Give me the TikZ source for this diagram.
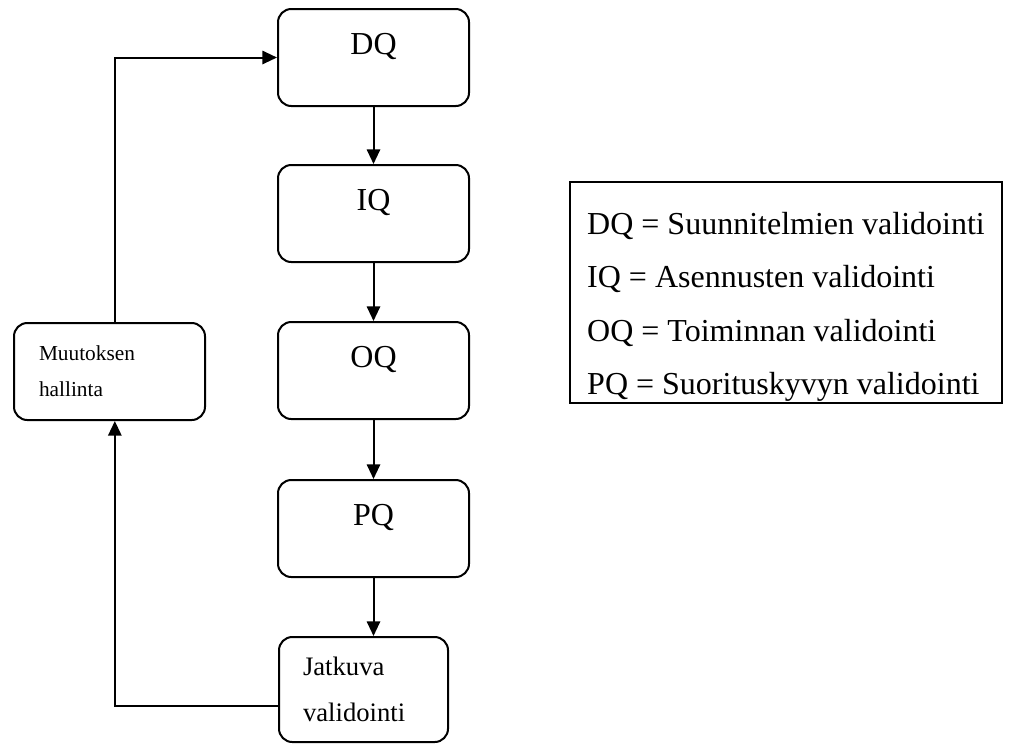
\documentclass[tikz,border=0pt]{standalone}
\usepackage{fontspec}
\setmainfont{Liberation Serif}
\usetikzlibrary{arrows.meta}

\begin{document}
\begin{tikzpicture}[x=0.75pt,y=-0.75pt,
  line width=1.5pt,
  vaihe/.style={draw,rounded corners=10pt,minimum width=143.25pt,inner ysep=0pt,
    text height=33.75pt,text depth=39pt,font=\fontsize{24}{28}\selectfont},
  nuoli/.style={-{Triangle[length=11pt,width=10pt]}}]

\useasboundingbox (0,0) rectangle (1012,744);

% Validoinnin vaiheet
\node (dq) at (373.5,57.5) [vaihe] {DQ};
\node (iq) at (373.5,213.5) [vaihe] {IQ};
\node (oq) at (373.5,370.5) [vaihe] {OQ};
\node (pq) at (373.5,528.5) [vaihe] {PQ};

% Jatkuva validointi ja muutoksen hallinta
\node (jatkuva) at (363.5,689.5) [draw,rounded corners=10pt,minimum width=126.75pt,minimum height=78.75pt,
  inner xsep=18pt,text width=90.75pt,align=left,font=\fontsize{20}{34}\selectfont]
  {Jatkuva\\validointi};
\node (muutos) at (109.5,371.5) [draw,rounded corners=10pt,minimum width=143.25pt,minimum height=72.75pt,
  inner xsep=18.75pt,text width=105.75pt,align=left,font=\fontsize{16}{27}\selectfont]
  {Muutoksen\\hallinta};

% Nuolet
\draw[nuoli] (dq) -- (iq);
\draw[nuoli] (iq) -- (oq);
\draw[nuoli] (oq) -- (pq);
\draw[nuoli] (pq.south) -- (pq.south |- jatkuva.north);
\coordinate (paluu) at (jatkuva.west |- 0,706);
\coordinate (ala) at ([xshift=4pt]muutos.south);
\coordinate (yla) at ([xshift=4pt]muutos.north);
\draw[nuoli] (paluu) -| (ala);
\draw[nuoli] (yla) |- (dq.west);

% Selitykset
\node (selitys) at (786,292.5) [draw,line width=1.2pt,minimum width=324pt,minimum height=165.75pt,
  inner ysep=0pt,align=left,font=\fontsize{24}{40}\selectfont] {
\rule{0pt}{38pt}DQ = Suunnitelmien validointi\\
IQ = Asennusten validointi\\
OQ = Toiminnan validointi\\
PQ = Suorituskyvyn validointi};

\end{tikzpicture}
\end{document}
